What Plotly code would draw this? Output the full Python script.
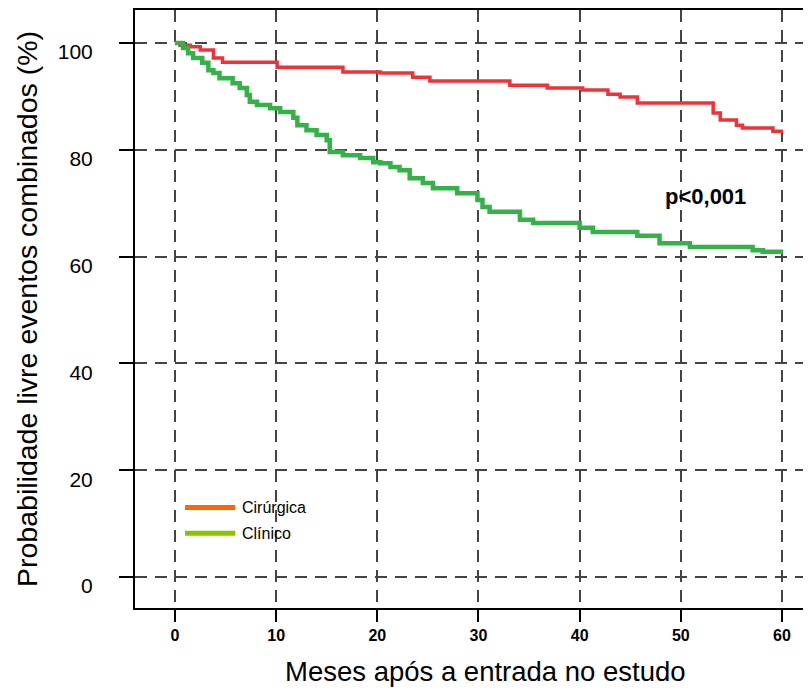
import plotly.graph_objects as go

# Kaplan-Meier style step data (months, % event-free)
cir_months = [0, 0.5, 1.5, 2.5, 3.8, 4.7, 10.1, 16.6, 20.3, 23.5, 25.2, 33.1, 36.8, 40.3,
              42.8, 44.0, 45.7, 53.2, 53.9, 55.5, 56.1, 59.1, 60.1]
cir_surv = [100, 99.6, 99.3, 98.7, 97.2, 96.4, 95.5, 94.6, 94.4, 93.6, 92.9, 92.1, 91.6, 91.2,
            90.4, 89.9, 88.8, 86.9, 85.6, 84.6, 84.1, 83.5, 83.5]

cli_months = [0, 0.8, 1.3, 1.8, 2.7, 3.3, 3.8, 4.4, 5.7, 6.4, 7.1, 7.4, 8.1, 9.4, 10.4, 11.7,
              12.1, 13.0, 14.0, 15.0, 15.3, 16.6, 18.3, 19.6, 20.3, 21.3, 22.2, 23.2, 24.5,
              25.5, 27.9, 29.9, 30.4, 31.1, 34.1, 35.4, 40.0, 41.3, 45.7, 47.9, 50.9, 57.1,
              58.1, 60.1]
cli_surv = [100, 99.1, 98.1, 97.2, 96.3, 94.9, 94.4, 93.4, 92.5, 91.6, 90.3, 89.0, 88.4, 87.8,
            87.1, 86.0, 84.6, 83.7, 82.8, 81.8, 79.6, 79.0, 78.5, 77.7, 77.5, 76.8, 76.2, 74.7,
            73.8, 72.8, 71.9, 70.6, 69.3, 68.4, 66.9, 66.3, 65.4, 64.6, 63.9, 62.5, 61.8, 61.2,
            60.9, 60.9]

x_ticks = [0, 10, 20, 30, 40, 50, 60]
y_ticks = [0, 20, 40, 60, 80, 100]
legend_names = ["Cirúrgica", "Clínico"]
legend_colors = ["#FF6600", "#88C400"]

fig = go.Figure()
fig.add_trace(go.Scatter(x=cir_months, y=cir_surv, mode="lines", name="Cirúrgica",
                         line=dict(shape="hv", color="#EE3338", width=3.5),
                         showlegend=False, hoverinfo="skip"))
fig.add_trace(go.Scatter(x=cli_months, y=cli_surv, mode="lines", name="Clínico",
                         line=dict(shape="hv", color="#33B347", width=4.5),
                         showlegend=False, hoverinfo="skip"))

# manual legend (paper coordinates inside the plot area)
leg_x0, leg_x1, leg_y0, leg_dy = 0.074, 0.148, 0.168, 0.043
for i, (name, col) in enumerate(zip(legend_names, legend_colors)):
    yy = leg_y0 - i * leg_dy
    fig.add_shape(type="line", xref="paper", yref="paper", x0=leg_x0, x1=leg_x1, y0=yy, y1=yy,
                  line=dict(color=col, width=5))
    fig.add_annotation(xref="paper", yref="paper", x=leg_x1 + 0.008, y=yy, text=name,
                       showarrow=False, xanchor="left", yanchor="middle",
                       font=dict(size=16, color="black"))

fig.add_annotation(x=52.4, y=71.2, text="p&lt;0,001", showarrow=False,
                   font=dict(size=22, color="black", weight="bold", family="Arimo, Liberation Sans, Arial"))

# x-axis title placed slightly right of centre, as in the original
fig.add_annotation(xref="paper", yref="paper", x=0.519, y=-0.107, text="Meses após a entrada no estudo",
                   showarrow=False, xanchor="center", yanchor="middle", font=dict(size=27.5, color="black"))

fig.update_layout(
    width=803, height=685,
    margin=dict(l=127, r=0, t=2, b=85),
    paper_bgcolor="white", plot_bgcolor="white",
    font=dict(family="Liberation Sans, Arial", color="black"),
    showlegend=False,
    xaxis=dict(range=[-3.95, 62.87], tickvals=x_ticks, ticktext=[str(v) for v in x_ticks],
               showgrid=True, gridcolor="#444", gridwidth=1.5, griddash="12px,8px",
               showline=True, linecolor="black", linewidth=2, mirror=True,
               ticks="outside", ticklen=12, tickwidth=2, tickcolor="black",
               tickfont=dict(size=16, weight="bold"), zeroline=False, automargin=False),
    yaxis=dict(range=[-5.8, 106.2], tickvals=y_ticks, ticktext=[str(v) for v in y_ticks],
               showgrid=True, gridcolor="#444", gridwidth=1.5, griddash="12px,8px",
               showline=True, linecolor="black", linewidth=2, mirror=False,
               ticks="outside", ticklen=14, tickwidth=2, tickcolor="black",
               tickfont=dict(size=21), zeroline=False, ticklabelstandoff=22, ticklabelshift=9,
               automargin=False,
               title=dict(text="Probabilidade livre eventos combinados (%)", font=dict(size=28.5), standoff=12)),
)

fig.write_html("out.html")
